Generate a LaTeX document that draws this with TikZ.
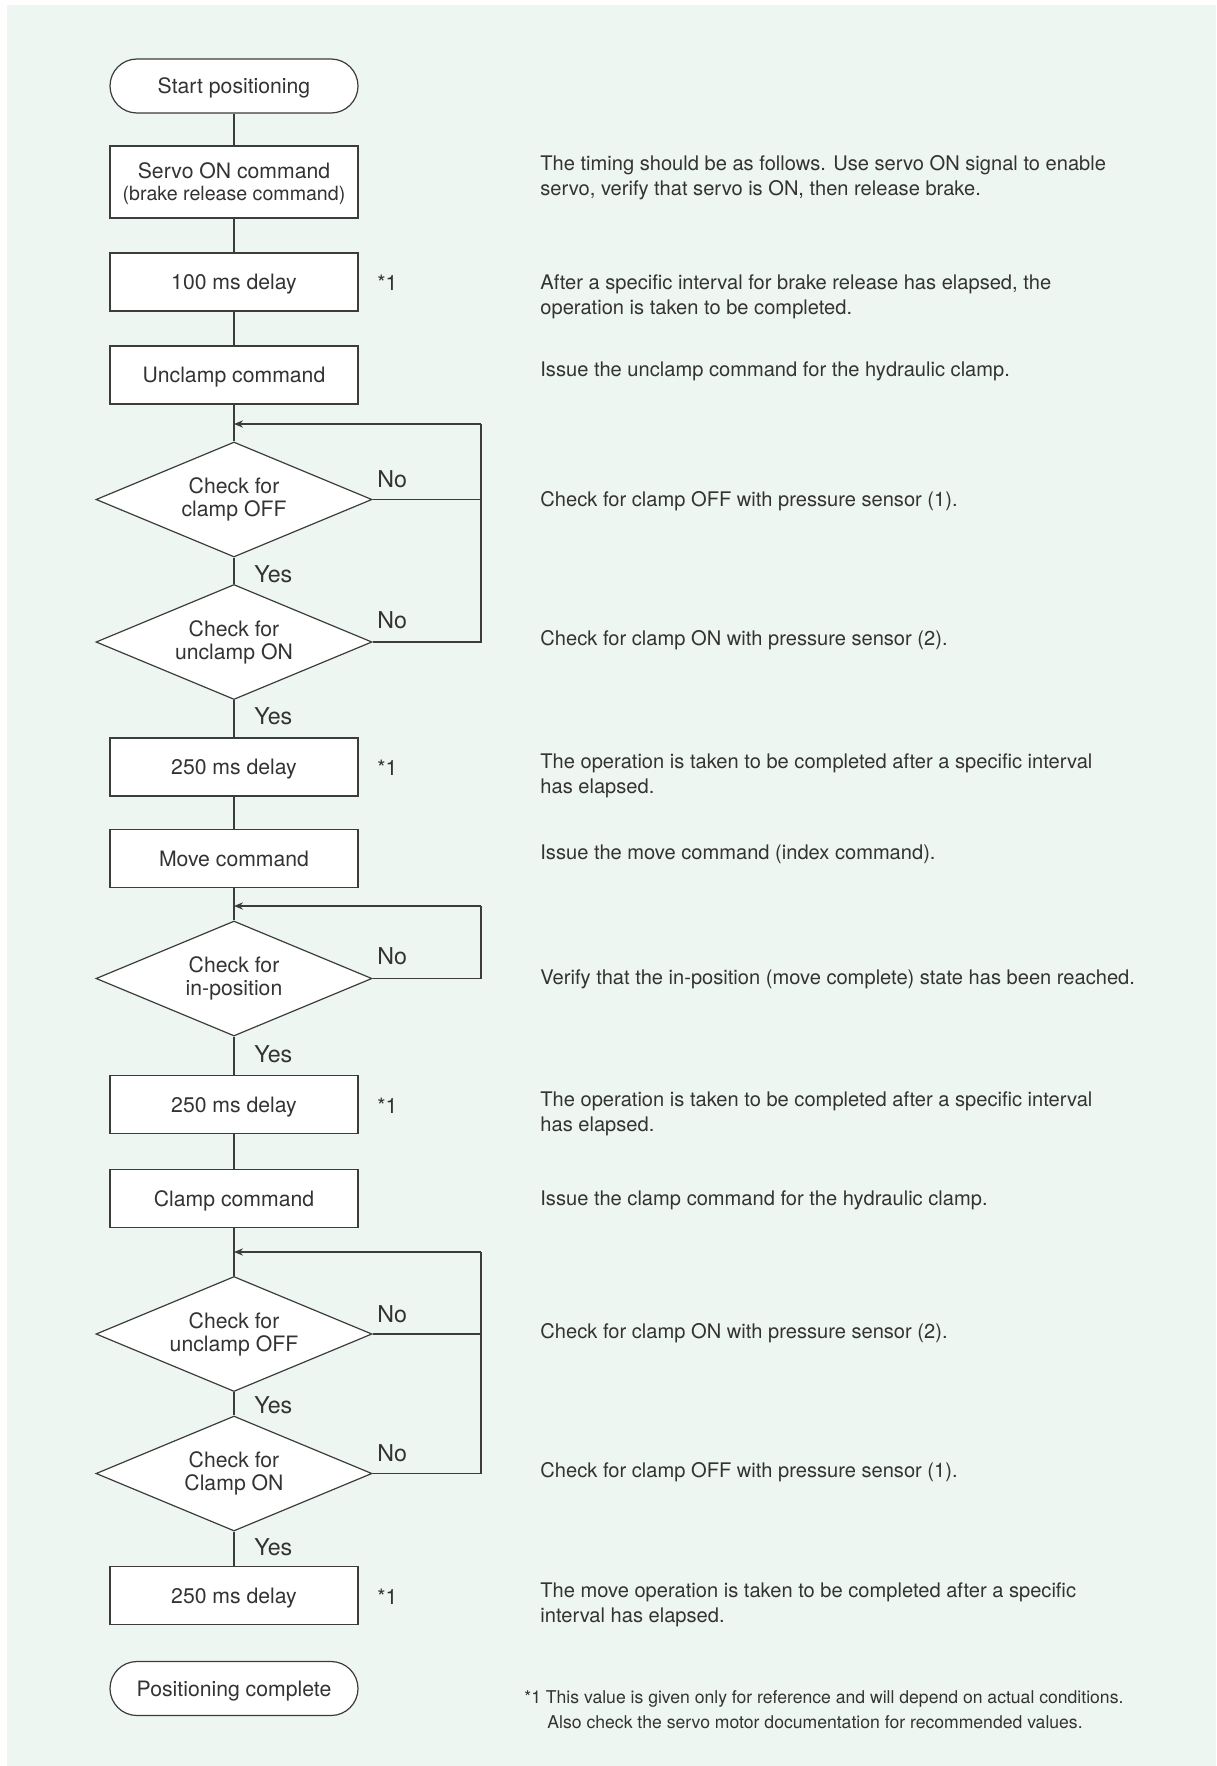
\documentclass[tikz,border=0pt]{standalone}
\usepackage{fontspec}
\setmainfont{TeX Gyre Heros}
\usepackage{tikz}
\usetikzlibrary{shapes.geometric}
\usetikzlibrary{arrows.meta}

\definecolor{bgmint}{HTML}{EEF6F1}
\definecolor{inkgray}{HTML}{333333}
\definecolor{linegray}{HTML}{3C3C3C}

\begin{document}
\begin{tikzpicture}[
    x=0.5pt, y=-0.5pt,
    plain/.style={rectangle, draw=linegray, line width=0.6pt, fill=white, minimum width=124pt, minimum height=29pt, inner sep=0pt, align=center, text=inkgray, font=\fontsize{10.6}{11}\selectfont},
    proc/.style={plain, text height=7.6pt, text depth=0pt},
    term/.style={proc, rounded corners=13.5pt, minimum height=27pt},
    decision/.style={diamond, draw=linegray, line width=0.6pt, fill=white, aspect=2.4, minimum width=138pt, minimum height=57.5pt, inner sep=0pt, align=center, text=inkgray, font=\fontsize{10.6}{11.5}\selectfont},
    link/.style={draw=linegray, line width=0.6pt, -},
    backedge/.style={link, -{Stealth[length=4.5pt, width=3.6pt]}},
    answer/.style={anchor=west, inner sep=0pt, text=inkgray, font=\fontsize{11.6}{13}\selectfont},
    mark1/.style={anchor=west, inner sep=0pt, text=inkgray, font=\fontsize{10.6}{11}\selectfont},
    note/.style={anchor=west, inner sep=0pt, align=left, text=inkgray, font=\fontsize{10.05}{12.5}\selectfont}
]

% Background
\useasboundingbox (0,0) rectangle (1216,1766);
\fill[bgmint] (7,5) rectangle (1216,1766);

% Define flow nodes
\node[term] (start) at (234, 86) {Start positioning};
\node[plain, minimum height=36pt] (servo) at (234, 182) {\rule{0pt}{9.9pt}Servo ON command\\{\fontsize{9.8}{11}\selectfont (brake release command)}};
\node[proc] (wait100) at (234, 282) {100 ms delay};
\node[proc] (unclamp) at (234, 375) {Unclamp command};
\node[decision] (clampoff) at (234, 499.5) {Check for\\clamp OFF};
\node[decision] (unclampon) at (234, 642) {Check for\\unclamp ON};
\node[proc] (waitA) at (234, 767) {250 ms delay};
\node[proc] (move) at (234, 858.5) {Move command};
\node[decision] (inpos) at (234, 978.5) {Check for\\in-position};
\node[proc] (waitB) at (234, 1104.5) {250 ms delay};
\node[proc] (clamp) at (234, 1198.5) {Clamp command};
\node[decision] (unclampoff) at (234, 1334) {Check for\\unclamp OFF};
\node[decision] (clampon) at (234, 1473.5) {Check for\\Clamp ON};
\node[proc] (waitC) at (234, 1595.5) {250 ms delay};
\node[term] (done) at (234, 1688.5) {Positioning complete};

% Loop junctions
\coordinate (j1) at (234, 424);
\coordinate (r1) at (481, 424);
\coordinate (j2) at (234, 906);
\coordinate (r2) at (481, 906);
\coordinate (j3) at (234, 1252);
\coordinate (r3) at (481, 1252);

% Define edges
\draw[link] (start) -- (servo);
\draw[link] (servo) -- (wait100);
\draw[link] (wait100) -- (unclamp);
\draw[link] (unclamp) -- (clampoff);
\draw[link] (clampoff) -- (unclampon);
\draw[link] (unclampon) -- (waitA);
\draw[link] (waitA) -- (move);
\draw[link] (move) -- (inpos);
\draw[link] (inpos) -- (waitB);
\draw[link] (waitB) -- (clamp);
\draw[link] (clamp) -- (unclampoff);
\draw[link] (unclampoff) -- (clampon);
\draw[link] (clampon) -- (waitC);

% No branches
\draw[link] (clampoff.east) -| (r1);
\draw[link] (unclampon.east) -| (r1);
\draw[backedge] (r1) -- (j1);
\draw[link] (inpos.east) -| (r2);
\draw[backedge] (r2) -- (j2);
\draw[link] (unclampoff.east) -| (r3);
\draw[link] (clampon.east) -| (r3);
\draw[backedge] (r3) -- (j3);

% Yes / No labels
\node[answer] (no1) at (377, 479) {No};
\node[answer] (no2) at (377, 620) {No};
\node[answer] (no3) at (377, 956) {No};
\node[answer] (no4) at (377, 1314) {No};
\node[answer] (no5) at (377, 1453) {No};
\node[answer] (yes1) at (254, 574) {Yes};
\node[answer] (yes2) at (254, 716) {Yes};
\node[answer] (yes3) at (254, 1054) {Yes};
\node[answer] (yes4) at (254, 1405) {Yes};
\node[answer] (yes5) at (254, 1547) {Yes};

% Reference marks
\node[mark1] (m1) at (377, 283) {*1};
\node[mark1] (m2) at (377, 768) {*1};
\node[mark1] (m3) at (377, 1105.5) {*1};
\node[mark1] (m4) at (377, 1596.5) {*1};

% Explanations
\node[note] (n1) at (540, 178) {The timing should be as follows. Use servo ON signal to enable\\servo, verify that servo is ON, then release brake.};
\node[note] (n2) at (540, 296.5) {After a specific interval for brake release has elapsed, the\\operation is taken to be completed.};
\node[note] (n3) at (540, 371.5) {Issue the unclamp command for the hydraulic clamp.};
\node[note] (n4) at (540, 501.5) {Check for clamp OFF with pressure sensor (1).};
\node[note] (n5) at (540, 640.5) {Check for clamp ON with pressure sensor (2).};
\node[note] (n6) at (540, 776) {The operation is taken to be completed after a specific interval\\has elapsed.};
\node[note] (n7) at (540, 854.5) {Issue the move command (index command).};
\node[note] (n8) at (540, 979.5) {Verify that the in-position (move complete) state has been reached.};
\node[note] (n9) at (540, 1114) {The operation is taken to be completed after a specific interval\\has elapsed.};
\node[note] (n10) at (540, 1200.5) {Issue the clamp command for the hydraulic clamp.};
\node[note] (n11) at (540, 1333.5) {Check for clamp ON with pressure sensor (2).};
\node[note] (n12) at (540, 1472.5) {Check for clamp OFF with pressure sensor (1).};
\node[note] (n13) at (540, 1604.5) {The move operation is taken to be completed after a specific\\interval has elapsed.};

% Footnote
\node[note, font=\fontsize{8.8}{12.5}\selectfont] (foot) at (524, 1709.5) {*1 This value is given only for reference and will depend on actual conditions.\\\hspace*{11.5pt}Also check the servo motor documentation for recommended values.};

\end{tikzpicture}
\end{document}
